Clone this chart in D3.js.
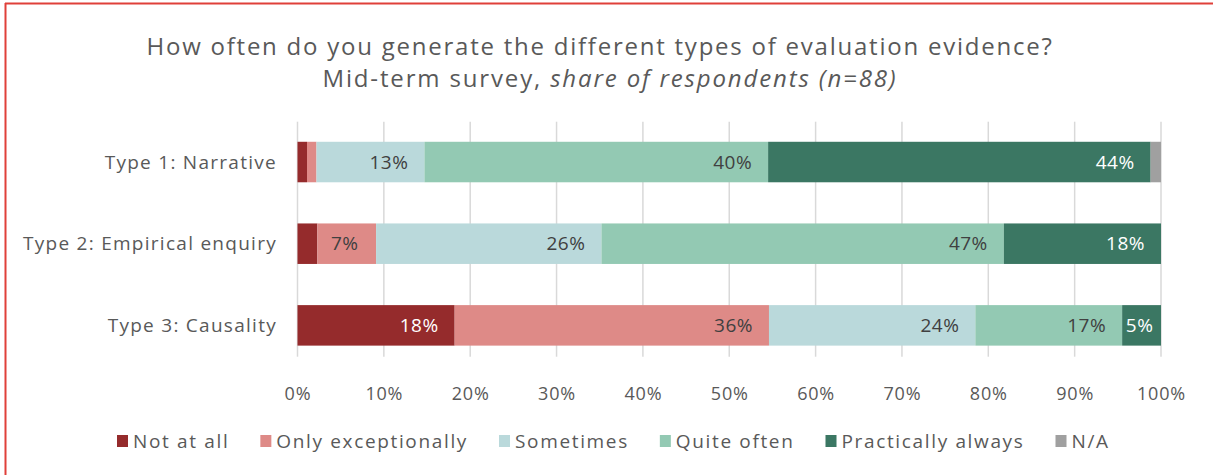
<!DOCTYPE html>
<html lang="en">
<head>
<meta charset="utf-8" />
<title>Evaluation evidence</title>
<style>
html, body {
	margin: 0;
	padding: 0;
	background: #fff;
}
svg {
	display: block;
	font-family: "Open Sans", "DejaVu Sans", sans-serif;
}
</style>
</head>
<body>
<svg width="1213" height="475"></svg>

<script src="https://cdn.jsdelivr.net/npm/d3@7/dist/d3.min.js"></script>
<script>

// categories (top to bottom)
var categories = ["Type 1: Narrative", "Type 2: Empirical enquiry", "Type 3: Causality"];
var series = ["Not at all", "Only exceptionally", "Sometimes", "Quite often", "Practically always", "N/A"];
var colors = ["#952b2c", "#de8a87", "#bad9db", "#93c9b3", "#3b7763", "#a0a0a0"];

// share of respondents, % (one array per series, in category order)
var notAtAll       = [1.1, 2.3, 18.2];
var onlyExcept     = [1.1, 6.8, 36.4];
var sometimes      = [12.5, 26.1, 23.9];
var quiteOften     = [39.8, 46.6, 17.0];
var practAlways    = [44.3, 18.2, 4.5];
var notApplicable  = [1.2, 0, 0];

var tickValues = [0, 10, 20, 30, 40, 50, 60, 70, 80, 90, 100];

var seriesValues = [notAtAll, onlyExcept, sometimes, quiteOften, practAlways, notApplicable];

var svg = d3.select("svg");
var W = 1213, H = 475;

// the fallback font is narrower than the original one: open the letters up
// so that a reference text reaches the wanted width
function spacingFor(node, target) {
	var w = node.getComputedTextLength();
	var n = node.textContent.length;
	return (target - w) / n;
}

// frame of the figure box (red)
svg.append("line").attr("x1", 5).attr("x2", W).attr("y1", 3.5).attr("y2", 3.5)
	.attr("stroke", "#e0403a").attr("stroke-width", 2);
svg.append("line").attr("x1", 5.5).attr("x2", 5.5).attr("y1", 3).attr("y2", H)
	.attr("stroke", "#e0403a").attr("stroke-width", 2);

// titles
var title = svg.append("text")
	.attr("x", 600).attr("y", 55)
	.attr("text-anchor", "middle")
	.attr("fill", "#595959")
	.style("font-size", "24px")
	.text("How often do you generate the different types of evaluation evidence?");
title.style("letter-spacing", spacingFor(title.node(), 907) + "px");

var sub = svg.append("text")
	.attr("x", 610).attr("y", 87)
	.attr("text-anchor", "middle")
	.attr("fill", "#595959")
	.style("font-size", "24px");
sub.append("tspan").text("Mid-term survey, ");
sub.append("tspan").style("font-style", "italic").text("share of respondents (n=88)");
sub.style("letter-spacing", spacingFor(sub.node(), 575) + "px");

// rows for the stack
var rows = categories.map(function(c, i) {
	var r = { category: c };
	series.forEach(function(s, j) { r[s] = seriesValues[j][i]; });
	return r;
});

var stacked = d3.stack().keys(series)(rows);

var x = d3.scaleLinear().domain([0, 100]).range([297.5, 1161]);
var y = d3.scaleBand().domain(categories).range([121.2, 366.2]).paddingInner(0.504).paddingOuter(0.252);

// gridlines
svg.append("g").selectAll("line")
	.data(tickValues)
	.join("line")
	.attr("x1", function(d) { return x(d); })
	.attr("x2", function(d) { return x(d); })
	.attr("y1", 121.7).attr("y2", 356.7)
	.attr("stroke", "#d9d9d9")
	.attr("stroke-width", 1.5);

// bars
var layers = svg.append("g").selectAll("g")
	.data(stacked)
	.join("g")
	.attr("fill", function(d, i) { return colors[i]; });

layers.selectAll("rect")
	.data(function(d) { return d; })
	.join("rect")
	.attr("x", function(d) { return x(d[0]); })
	.attr("width", function(d) { return x(d[1]) - x(d[0]); })
	.attr("y", function(d) { return y(d.data.category); })
	.attr("height", y.bandwidth());

// data labels, inside end (centred when the slice is narrow)
var darkSeries = ["Not at all", "Practically always"];
stacked.forEach(function(layer) {
	svg.append("g").selectAll("text")
		.data(layer.filter(function(d) { return d[1] - d[0] >= 4; }))
		.join("text")
		.attr("x", function(d) {
			var wpx = x(d[1]) - x(d[0]);
			return wpx < 60 ? (x(d[0]) + x(d[1])) / 2 - 2 : x(d[1]) - 16;
		})
		.attr("y", function(d) { return y(d.data.category) + y.bandwidth() / 2; })
		.attr("dy", "0.35em")
		.attr("text-anchor", function(d) { return x(d[1]) - x(d[0]) < 60 ? "middle" : "end"; })
		.attr("fill", darkSeries.indexOf(layer.key) >= 0 ? "#ffffff" : "#404040")
		.style("font-size", "19px")
		.style("letter-spacing", "0.5px")
		.text(function(d) { return Math.round(d[1] - d[0]) + "%"; });
});

// category axis labels
var catLabels = svg.append("g").selectAll("text")
	.data(categories)
	.join("text")
	.attr("x", 277)
	.attr("y", function(d) { return y(d) + y.bandwidth() / 2; })
	.attr("dy", "0.35em")
	.attr("text-anchor", "end")
	.attr("fill", "#595959")
	.style("font-size", "19px")
	.text(function(d) { return d; });
var catLs = spacingFor(catLabels.nodes()[1], 254);
catLabels.style("letter-spacing", catLs + "px");

// x axis
var xAxis = svg.append("g")
	.attr("transform", "translate(0,384)")
	.call(d3.axisBottom(x).tickValues(tickValues).tickSize(0).tickFormat(function(d) { return d + "%"; }));
xAxis.select(".domain").remove();
xAxis.selectAll("text")
	.attr("fill", "#595959")
	.style("font-size", "18px")
	.style("letter-spacing", "0.8px")
	.style("font-family", "\"Open Sans\", sans-serif");

// legend
var legend = svg.append("g").attr("transform", "translate(117,441)");
var probe = legend.append("text").style("font-size", "19px").text("Practically always");
var legLs = spacingFor(probe.node(), 183);
probe.remove();
var lx = 0;
series.forEach(function(s, i) {
	var item = legend.append("g").attr("transform", "translate(" + lx + ",0)");
	item.append("rect").attr("x", 0).attr("y", -6).attr("width", 11).attr("height", 12).attr("fill", colors[i]);
	var t = item.append("text")
		.attr("x", 16).attr("dy", "0.35em")
		.attr("fill", "#595959")
		.style("font-size", "19px")
		.style("letter-spacing", legLs + "px")
		.text(s);
	lx += 16 + t.node().getComputedTextLength() + 31;
});

</script>
</body>
</html>
